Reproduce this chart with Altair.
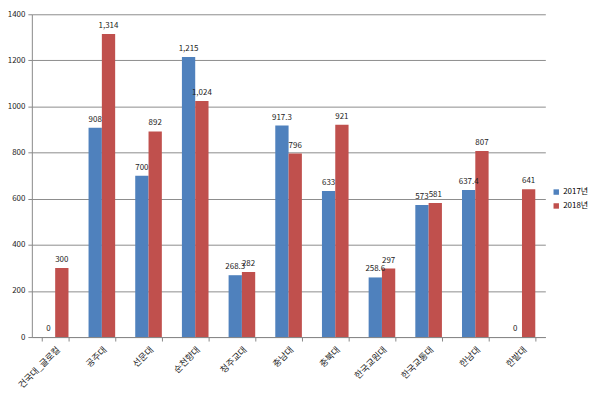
import altair as alt
import pandas as pd

categories = ["건국대_글로컬", "공주대", "선문대", "순천향대", "청주교대", "충남대",
              "충북대", "한국교원대", "한국교통대", "한남대", "한밭대"]
years = ["2017년", "2018년"]
values_2017 = [0, 908, 700, 1215, 268.3, 917.3, 633, 258.6, 573, 637.4, 0]
values_2018 = [300, 1314, 892, 1024, 282, 796, 921, 297, 581, 807, 641]
y_ticks = [0, 200, 400, 600, 800, 1000, 1200, 1400]


def fmt(v):
    if float(v).is_integer():
        return f"{int(v):,}"
    return f"{v:,}"


rows = []
for c, a, b in zip(categories, values_2017, values_2018):
    rows.append({"cat": c, "year": years[0], "value": a, "label": fmt(a)})
    rows.append({"cat": c, "year": years[1], "value": b, "label": fmt(b)})
df = pd.DataFrame(rows)

font = "Noto Sans CJK KR"

x_enc = alt.X("cat:N", sort=categories, title=None,
              scale=alt.Scale(paddingInner=0.43, paddingOuter=0.215),
              axis=alt.Axis(labelAngle=-45, labelFont=font, labelFontSize=9,
                            labelColor="#222", tickBand="extent", tickSize=4,
                            domainColor="#888", tickColor="#888", labelPadding=4,
                            labelAlign="right", labelBaseline="top"))
xo = alt.XOffset("year:N", sort=years)

bars = alt.Chart(df).mark_bar().encode(
    x=x_enc,
    xOffset=xo,
    y=alt.Y("value:Q", title=None,
            scale=alt.Scale(domain=[0, 1400], nice=False),
            axis=alt.Axis(values=y_ticks, format="d", labelFont=font,
                          labelFontSize=8, labelColor="#222", grid=True,
                          gridColor="#8c8c8c", domainColor="#888",
                          tickColor="#888", tickSize=4, labelPadding=3)),
    color=alt.Color("year:N", sort=years,
                    scale=alt.Scale(domain=years, range=["#4F81BD", "#C0504D"]),
                    legend=alt.Legend(title=None, orient="none", legendX=524,
                                      legendY=175, symbolType="square",
                                      symbolSize=30, labelFont=font,
                                      labelFontSize=8, rowPadding=6,
                                      symbolStrokeWidth=0, labelOffset=3)),
)

text = alt.Chart(df).mark_text(dy=-8, fontSize=8, font=font, color="#222").encode(
    x=alt.X("cat:N", sort=categories),
    xOffset=xo,
    y="value:Q",
    text="label:N",
)

chart = alt.layer(bars, text).properties(
    width=517, height=325,
    autosize=alt.AutoSizeParams(type="none"),
    padding={"left": 24, "top": 5, "right": 47, "bottom": 55},
).configure_view(stroke=None)

chart.save("out.html", embed_options={"renderer": "svg", "actions": False})
